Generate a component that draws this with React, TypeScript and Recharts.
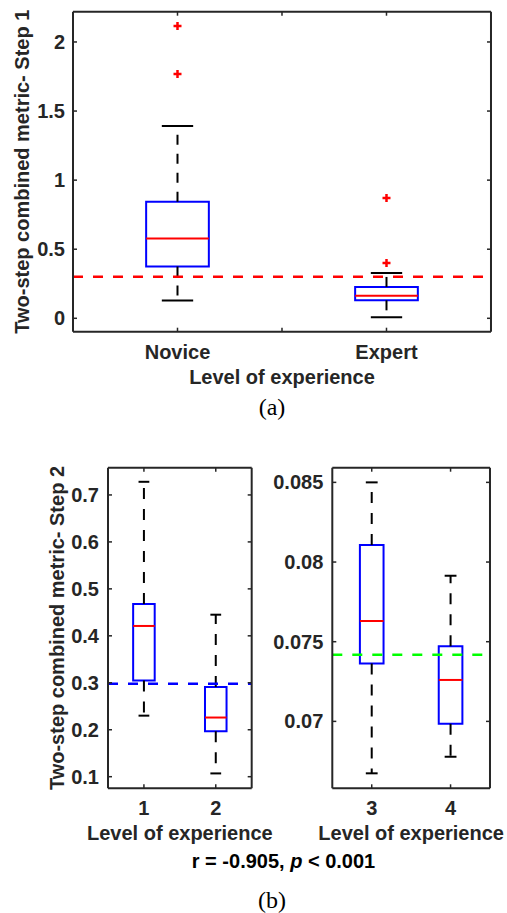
import React from 'react';
import { ComposedChart, XAxis, YAxis, ReferenceArea, ReferenceLine, Scatter } from 'recharts';

// panel (a): step 1, novice vs expert
const stepOnePos = [1, 2];
const stepOneNames = ['Novice', 'Expert'];
const stepOneLow = [0.128, 0.007];
const stepOneQ1 = [0.375, 0.13];
const stepOneMed = [0.578, 0.164];
const stepOneQ3 = [0.843, 0.227];
const stepOneHigh = [1.391, 0.328];
const stepOneOutX = [1, 1, 2, 2];
const stepOneOutY = [2.116, 1.768, 0.87, 0.401];
const stepOneThreshold = 0.3;
const stepOneTicks = [0, 0.5, 1, 1.5, 2];

// panel (b) left: levels 1 and 2
const stepTwoPosA = [1, 2];
const stepTwoLowA = [0.23, 0.107];
const stepTwoQ1A = [0.305, 0.197];
const stepTwoMedA = [0.421, 0.226];
const stepTwoQ3A = [0.468, 0.291];
const stepTwoHighA = [0.728, 0.445];
const stepTwoThresholdA = 0.298;
const stepTwoTicksA = [0.1, 0.2, 0.3, 0.4, 0.5, 0.6, 0.7];

// panel (b) right: levels 3 and 4
const stepTwoPosB = [3, 4];
const stepTwoLowB = [0.06674, 0.06778];
const stepTwoQ1B = [0.07364, 0.06985];
const stepTwoMedB = [0.0763, 0.0726];
const stepTwoQ3B = [0.08107, 0.07471];
const stepTwoHighB = [0.085, 0.07914];
const stepTwoThresholdB = 0.07418;
const stepTwoTicksB = [0.07, 0.075, 0.08, 0.085];

const FONT = '"Liberation Sans", Arial, Helvetica, sans-serif';
const axisColor = '#262626';
const tickFont = { fill: axisColor, fontSize: 20, fontWeight: 700, fontFamily: FONT };
const labelStyle = { fill: axisColor, fontSize: 20, fontWeight: 700, fontFamily: FONT, textAnchor: 'middle' as const };

const PlusShape = (props: any) => {
  const { cx, cy } = props;
  if (cx == null || cy == null) return null;
  return (
    <g stroke="#ff0000" strokeWidth={2.5}>
      <line x1={cx - 4} y1={cy} x2={cx + 4} y2={cy} />
      <line x1={cx} y1={cy - 4} x2={cx} y2={cy + 4} />
    </g>
  );
};

const rowsOf = (pos: number[], med: number[]) => pos.map((x, i) => ({ x, y: med[i] }));

function boxes(pos: number[], lo: number[], q1: number[], med: number[], q3: number[], hi: number[], dash: string) {
  const half = 0.15;
  const cap = 0.075;
  const out: React.ReactNode[] = [];
  pos.forEach((p, i) => {
    const ids = { xAxisId: 'b', yAxisId: 'l', ifOverflow: 'visible' as const };
    out.push(<ReferenceLine key={`wu${i}`} {...ids} segment={[{ x: p, y: q3[i] }, { x: p, y: hi[i] }]} stroke="#000" strokeWidth={2} strokeDasharray={dash} />);
    out.push(<ReferenceLine key={`wl${i}`} {...ids} segment={[{ x: p, y: q1[i] }, { x: p, y: lo[i] }]} stroke="#000" strokeWidth={2} strokeDasharray={dash} />);
    out.push(<ReferenceLine key={`cu${i}`} {...ids} segment={[{ x: p - cap, y: hi[i] }, { x: p + cap, y: hi[i] }]} stroke="#000" strokeWidth={2} />);
    out.push(<ReferenceLine key={`cl${i}`} {...ids} segment={[{ x: p - cap, y: lo[i] }, { x: p + cap, y: lo[i] }]} stroke="#000" strokeWidth={2} />);
    out.push(<ReferenceArea key={`bx${i}`} {...ids} x1={p - half} x2={p + half} y1={q1[i]} y2={q3[i]} fill="none" fillOpacity={0} stroke="#0000ff" strokeWidth={2} strokeOpacity={1} />);
    out.push(<ReferenceLine key={`md${i}`} {...ids} segment={[{ x: p - half, y: med[i] }, { x: p + half, y: med[i] }]} stroke="#ff0000" strokeWidth={2} />);
  });
  return out;
}

type FrameOpts = {
  xDomain: [number, number];
  xTicks: number[];
  xFormat: (v: number) => string;
  xHeight: number;
  xMargin: number;
  xLabelOffset: number;
  yDomain: [number, number];
  yTicks: number[];
  yWidth: number;
  yMargin: number;
  yLabel?: string;
  yLabelOffset?: number;
};

// MATLAB-style box: axes on all four sides, ticks pointing inward
function frame(o: FrameOpts) {
  const line = { stroke: axisColor, strokeWidth: 2 };
  const tl = { stroke: axisColor, strokeWidth: 1.5 };
  return [
    <XAxis key="xb" xAxisId="b" dataKey="x" type="number" domain={o.xDomain} ticks={o.xTicks} tickFormatter={o.xFormat}
      allowDataOverflow interval={0} height={o.xHeight} tickSize={-4} tickMargin={o.xMargin}
      axisLine={line} tickLine={tl} tick={tickFont}
      label={{ value: 'Level of experience', position: 'insideBottom', offset: o.xLabelOffset, style: labelStyle }} />,
    <XAxis key="xt" xAxisId="t" dataKey="x" orientation="top" type="number" domain={o.xDomain} ticks={o.xTicks}
      tickFormatter={() => ''} allowDataOverflow interval={0} height={0.01} tickSize={-4}
      axisLine={line} tickLine={tl} tick={tickFont} />,
    <YAxis key="yl" yAxisId="l" dataKey="y" type="number" domain={o.yDomain} ticks={o.yTicks} allowDataOverflow interval={0}
      width={o.yWidth} tickSize={-4} tickMargin={o.yMargin} axisLine={line} tickLine={tl} tick={tickFont}
      label={o.yLabel ? { value: o.yLabel, angle: -90, position: 'insideLeft', offset: o.yLabelOffset, style: labelStyle } : undefined} />,
    <YAxis key="yr" yAxisId="r" dataKey="y" orientation="right" type="number" domain={o.yDomain} ticks={o.yTicks}
      tickFormatter={() => ''} allowDataOverflow interval={0} width={0.01} tickSize={-4}
      axisLine={line} tickLine={tl} tick={tickFont} />,
  ];
}

const stepOneOutliers = stepOneOutX.map((x, i) => ({ x, y: stepOneOutY[i] }));

export default function App() {
  return (
    <div style={{ position: 'absolute', left: 0, top: 0, width: 507, height: 913, background: '#fff', fontFamily: FONT }}>
      <div style={{ position: 'absolute', left: 0, top: 0 }}>
        <ComposedChart width={507} height={400} data={rowsOf(stepOnePos, stepOneMed)} margin={{ top: 11.7, right: 16, left: 0, bottom: 0 }}>
          {frame({
            xDomain: [0.5, 2.5], xTicks: [1, 1.5, 2],
            xFormat: (v) => { const k = stepOnePos.indexOf(v); return k >= 0 ? stepOneNames[k] : ''; },
            xHeight: 68.3, xMargin: 17.5, xLabelOffset: 16.4,
            yDomain: [-0.097, 2.219], yTicks: stepOneTicks, yWidth: 73, yMargin: 12,
            yLabel: 'Two-step combined metric- Step 1', yLabelOffset: 22,
          })}
          {boxes(stepOnePos, stepOneLow, stepOneQ1, stepOneMed, stepOneQ3, stepOneHigh, '10 9')}
          <Scatter xAxisId="b" yAxisId="l" data={stepOneOutliers} dataKey="y" shape={<PlusShape />} isAnimationActive={false} />
          <ReferenceLine xAxisId="b" yAxisId="l" y={stepOneThreshold} stroke="#ff0000" strokeWidth={2.5} strokeDasharray="10 10" />
        </ComposedChart>
      </div>
      <div style={{ position: 'absolute', left: 0, top: 394.6, width: 507, textAlign: 'center', fontFamily: '"Liberation Serif", "Times New Roman", serif', fontSize: 24, lineHeight: '24px', paddingLeft: 37, boxSizing: 'border-box' }}>(a)</div>

      <div style={{ position: 'absolute', left: 0, top: 440 }}>
        <ComposedChart width={290} height={420} data={rowsOf(stepTwoPosA, stepTwoMedA)} margin={{ top: 27.7, right: 38.3, left: 0, bottom: 0 }}>
          {frame({
            xDomain: [0.5, 2.5], xTicks: stepTwoPosA, xFormat: (v) => String(v),
            xHeight: 71.7, xMargin: 16.4, xLabelOffset: 19.7,
            yDomain: [0.0753, 0.758], yTicks: stepTwoTicksA, yWidth: 108, yMargin: 13,
            yLabel: 'Two-step combined metric- Step 2', yLabelOffset: 57,
          })}
          {boxes(stepTwoPosA, stepTwoLowA, stepTwoQ1A, stepTwoMedA, stepTwoQ3A, stepTwoHighA, '11 10')}
          <ReferenceLine xAxisId="b" yAxisId="l" y={stepTwoThresholdA} stroke="#0000ff" strokeWidth={2.5} strokeDasharray="10 10" />
        </ComposedChart>
      </div>
      <div style={{ position: 'absolute', left: 260, top: 440 }}>
        <ComposedChart width={247} height={420} data={rowsOf(stepTwoPosB, stepTwoMedB)} margin={{ top: 27.7, right: 17, left: 0, bottom: 0 }}>
          {frame({
            xDomain: [2.5, 4.5], xTicks: stepTwoPosB, xFormat: (v) => String(v),
            xHeight: 71.7, xMargin: 16.4, xLabelOffset: 19.7,
            yDomain: [0.0658, 0.08592], yTicks: stepTwoTicksB, yWidth: 72.3, yMargin: 13,
          })}
          {boxes(stepTwoPosB, stepTwoLowB, stepTwoQ1B, stepTwoMedB, stepTwoQ3B, stepTwoHighB, '11 10')}
          <ReferenceLine xAxisId="b" yAxisId="l" y={stepTwoThresholdB} stroke="#00ff00" strokeWidth={2.5} strokeDasharray="10 10" />
        </ComposedChart>
      </div>
      <div style={{ position: 'absolute', left: 0, top: 851.4, width: 507, paddingLeft: 60, boxSizing: 'border-box', textAlign: 'center', fontSize: 20, lineHeight: '20px', fontWeight: 700, color: '#000' }}>
        r = -0.905, <i>p</i> &lt; 0.001
      </div>
      <div style={{ position: 'absolute', left: 0, top: 888.3, width: 507, textAlign: 'center', fontFamily: '"Liberation Serif", "Times New Roman", serif', fontSize: 24, lineHeight: '24px', paddingLeft: 37, boxSizing: 'border-box' }}>(b)</div>
    </div>
  );
}
